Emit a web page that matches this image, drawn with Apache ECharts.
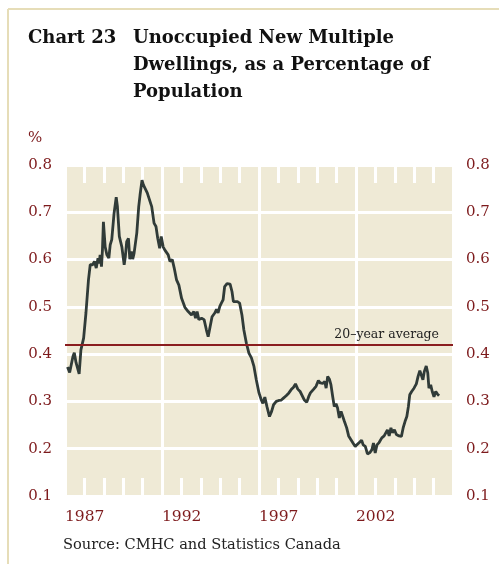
<!DOCTYPE html>
<html>
<head>
<meta charset="utf-8">
<script src="https://cdn.jsdelivr.net/npm/echarts@6/dist/echarts.min.js"></script>
<style>
  html, body { margin: 0; padding: 0; background: #fff; }
  #chart { width: 499px; height: 564px; }
</style>
</head>
<body>
<div id="chart"></div>
<script>
// decimal year and % of population
const years = [
  1987.13, 1987.24, 1987.41, 1987.48, 1987.57, 1987.65, 1987.73, 1987.82, 1987.96, 1988.08,
  1988.21, 1988.30, 1988.42, 1988.52, 1988.61, 1988.70, 1988.76, 1988.81, 1988.88, 1988.93,
  1988.98, 1989.07, 1989.16, 1989.26, 1989.33, 1989.41, 1989.53, 1989.64, 1989.70, 1989.80,
  1989.93, 1990.05, 1990.11, 1990.18, 1990.27, 1990.34, 1990.42, 1990.49, 1990.56, 1990.70,
  1990.80, 1990.87, 1990.97, 1991.04, 1991.14, 1991.24, 1991.33, 1991.47, 1991.59, 1991.69,
  1991.78, 1991.88, 1991.96, 1992.06,
  1992.15, 1992.32, 1992.41, 1992.53, 1992.63, 1992.75, 1992.87, 1993.01, 1993.18, 1993.35,
  1993.52, 1993.64, 1993.73, 1993.81, 1993.90, 1994.04, 1994.17, 1994.29, 1994.38, 1994.48,
  1994.58, 1994.72, 1994.81, 1994.89, 1994.98, 1995.06, 1995.15, 1995.23, 1995.35, 1995.51,
  1995.61, 1995.68, 1995.78, 1995.89, 1996.00, 1996.12, 1996.22, 1996.35, 1996.48, 1996.61,
  1996.74, 1996.86, 1997.00,
  1997.12, 1997.20, 1997.30, 1997.41, 1997.54, 1997.65, 1997.75, 1997.89, 1998.02, 1998.15,
  1998.26, 1998.40, 1998.54, 1998.66, 1998.78, 1998.88, 1999.00, 1999.12, 1999.22, 1999.34,
  1999.46, 1999.56, 1999.65, 1999.74, 1999.82, 1999.94, 2000.06, 2000.16, 2000.28, 2000.39,
  2000.46, 2000.54, 2000.63, 2000.71, 2000.80, 2000.88, 2000.97, 2001.05, 2001.14, 2001.23,
  2001.31, 2001.40, 2001.52, 2001.62, 2001.74, 2001.86, 2001.96,
  2002.03, 2002.17, 2002.29, 2002.37, 2002.48, 2002.59, 2002.72, 2002.82, 2002.90, 2002.99,
  2003.08, 2003.19, 2003.33, 2003.45, 2003.54, 2003.62, 2003.71, 2003.80, 2003.88, 2003.98,
  2004.08, 2004.22, 2004.34, 2004.43, 2004.53, 2004.62, 2004.70, 2004.77, 2004.87, 2004.99,
  2005.11, 2005.20, 2005.29, 2005.37, 2005.45, 2005.52, 2005.62, 2005.70, 2005.76, 2005.85,
  2005.93, 2006.02, 2006.11, 2006.19, 2006.28
];
const values = [
  0.373, 0.361, 0.395, 0.403, 0.382, 0.384, 0.358, 0.409, 0.434, 0.487,
  0.557, 0.589, 0.589, 0.596, 0.582, 0.603, 0.592, 0.610, 0.585, 0.620,
  0.680, 0.627, 0.610, 0.603, 0.631, 0.642, 0.698, 0.732, 0.713, 0.649,
  0.627, 0.589, 0.606, 0.638, 0.645, 0.601, 0.617, 0.601, 0.613, 0.656,
  0.712, 0.737, 0.768, 0.758, 0.755, 0.741, 0.739, 0.712, 0.677, 0.670,
  0.645, 0.624, 0.649, 0.627,
  0.620, 0.610, 0.596, 0.600, 0.582, 0.557, 0.546, 0.518, 0.499, 0.490,
  0.483, 0.490, 0.476, 0.490, 0.473, 0.476, 0.473, 0.451, 0.437, 0.458,
  0.479, 0.487, 0.495, 0.487, 0.501, 0.508, 0.515, 0.543, 0.549, 0.548,
  0.532, 0.511, 0.515, 0.511, 0.508, 0.483, 0.451, 0.423, 0.402, 0.392,
  0.374, 0.346, 0.318,
  0.303, 0.296, 0.309, 0.289, 0.268, 0.279, 0.293, 0.300, 0.302, 0.303,
  0.307, 0.312, 0.318, 0.325, 0.330, 0.337, 0.326, 0.321, 0.319, 0.303,
  0.298, 0.310, 0.318, 0.316, 0.326, 0.332, 0.344, 0.339, 0.338, 0.342,
  0.328, 0.353, 0.347, 0.335, 0.310, 0.289, 0.295, 0.286, 0.265, 0.279,
  0.277, 0.258, 0.244, 0.227, 0.219, 0.211, 0.205,
  0.208, 0.213, 0.218, 0.208, 0.205, 0.189, 0.192, 0.198, 0.212, 0.191,
  0.208, 0.213, 0.223, 0.227, 0.225, 0.240, 0.227, 0.244, 0.234, 0.240,
  0.230, 0.227, 0.226, 0.244, 0.258, 0.268, 0.289, 0.314, 0.321, 0.328,
  0.337, 0.353, 0.365, 0.362, 0.346, 0.363, 0.375, 0.360, 0.328, 0.335,
  0.321, 0.310, 0.321, 0.316, 0.312
];
const averageValue = 0.421;
const yearLabels = [1987, 1992, 1997, 2002];

const serif = 'DejaVu Serif';
const red = '#7d1a1c';
const beige = '#efead6';

const chart = echarts.init(document.getElementById('chart'));

const lineData = years.map((y, i) => [y, values[i]]);

const xCommon = {
  type: 'value',
  min: 1987,
  max: 2007,
  interval: 5,
  axisLine: { show: false },
  axisTick: { show: false, inside: true },
  minorTick: {
    show: true,
    splitNumber: 5,
    length: 18,
    lineStyle: { color: '#fff', width: 3 }
  }
};

chart.setOption({
  animation: false,
  title: [
    {
      text: 'Chart 23',
      left: 28,
      top: 25,
      padding: 0,
      textStyle: { fontFamily: serif, fontWeight: 'bold', fontSize: 18, lineHeight: 27, color: '#111' }
    },
    {
      text: 'Unoccupied New Multiple\nDwellings, as a Percentage of\nPopulation',
      left: 133,
      top: 25,
      padding: 0,
      textStyle: { fontFamily: serif, fontWeight: 'bold', fontSize: 18, lineHeight: 27, color: '#111' }
    }
  ],
  graphic: [
    { type: 'line', shape: { x1: 8, y1: 9, x2: 499, y2: 9 }, style: { stroke: '#e6ddb8', lineWidth: 2 } },
    { type: 'line', shape: { x1: 8, y1: 9, x2: 8, y2: 564 }, style: { stroke: '#e6ddb8', lineWidth: 2 } },
    {
      type: 'text', left: 28, top: 131,
      style: { text: '%', font: '15px "DejaVu Serif"', fill: red }
    },
    {
      type: 'text', left: 63, top: 538,
      style: { text: 'Source: CMHC and Statistics Canada', font: '14.6px "DejaVu Serif"', fill: '#222' }
    }
  ],
  grid: {
    left: 65,
    right: 46,
    top: 165,
    bottom: 68,
    show: true,
    backgroundColor: beige,
    borderWidth: 0,
    outerBoundsMode: 'none'
  },
  xAxis: [
    Object.assign({}, xCommon, {
      position: 'bottom',
      splitLine: { show: true, lineStyle: { color: '#fff', width: 3 } },
      axisLabel: {
        show: true,
        margin: 13,
        align: 'left',
        fontFamily: serif,
        fontSize: 15.5,
        color: red,
        formatter: v => (yearLabels.indexOf(v) >= 0 ? String(v) : '')
      }
    }),
    Object.assign({}, xCommon, {
      position: 'top',
      splitLine: { show: false },
      axisLabel: { show: false }
    })
  ],
  yAxis: [
    {
      type: 'value',
      position: 'left',
      min: 0.1,
      max: 0.8,
      interval: 0.1,
      axisLine: { show: false },
      axisTick: { show: false },
      splitLine: { show: true, lineStyle: { color: '#fff', width: 3 } },
      axisLabel: { margin: 13, fontFamily: serif, fontSize: 15, color: red, formatter: v => v.toFixed(1) }
    },
    {
      type: 'value',
      position: 'right',
      min: 0.1,
      max: 0.8,
      interval: 0.1,
      axisLine: { show: false },
      axisTick: { show: false },
      splitLine: { show: false },
      axisLabel: { margin: 13, fontFamily: serif, fontSize: 15, color: red, formatter: v => v.toFixed(1) }
    }
  ],
  series: [
    {
      type: 'line',
      data: lineData,
      xAxisIndex: 0,
      yAxisIndex: 0,
      showSymbol: false,
      symbol: 'none',
      lineStyle: { color: '#303b38', width: 2.8 },
      z: 3,
      markLine: {
        silent: true,
        symbol: ['none', 'none'],
        lineStyle: { color: '#8a1d1f', width: 2, type: 'solid' },
        label: {
          show: true,
          position: 'insideEndTop',
          distance: [14, 3],
          formatter: '20\u2013year average',
          fontFamily: serif,
          fontSize: 12.5,
          color: '#222'
        },
        emphasis: { disabled: true },
        data: [{ yAxis: averageValue }]
      }
    }
  ]
});
</script>
</body>
</html>
